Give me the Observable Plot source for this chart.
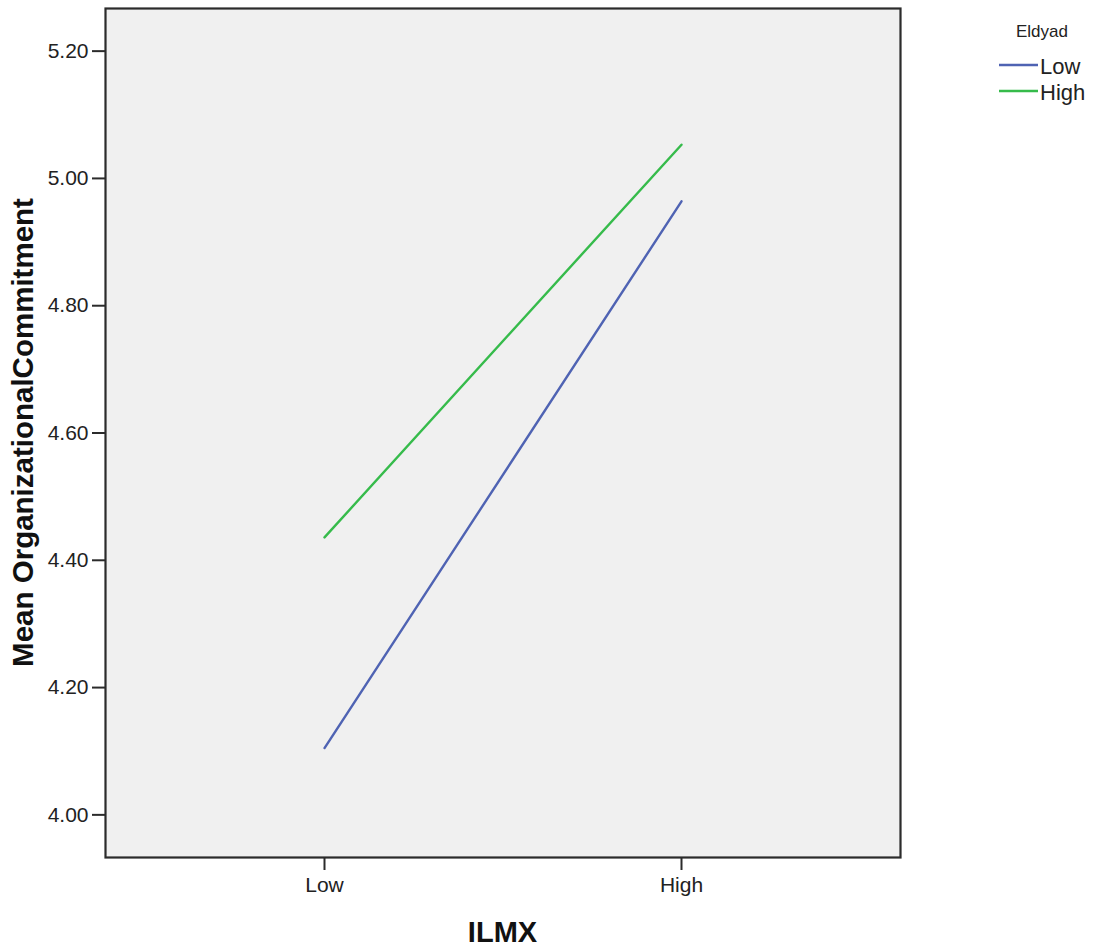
<!DOCTYPE html>
<html><head><meta charset="utf-8">
<script src="https://cdn.jsdelivr.net/npm/d3@7"></script>
<script src="https://cdn.jsdelivr.net/npm/@observablehq/plot@0.6"></script>
<style>body{margin:0;background:#fff;} svg{display:block;}</style>
</head><body><div id="chart"></div>
<script>
const ilmxLevels = ["Low", "High"];
const eldyadLevels = ["Low", "High"];
const meanEldyadLow = [4.105, 4.964];
const meanEldyadHigh = [4.436, 5.053];
const seriesColors = ["#4f63b3", "#36bb4b"];
const yTicks = [4.0, 4.2, 4.4, 4.6, 4.8, 5.0, 5.2];
const xTitle = "ILMX";
const yTitle = "Mean OrganizationalCommitment";
const legendTitle = "Eldyad";

const seriesValues = [meanEldyadLow, meanEldyadHigh];
const rows = eldyadLevels.flatMap((e, si) =>
  ilmxLevels.map((x, i) => ({ilmx: x, eldyad: e, value: seriesValues[si][i]})));

const font = "'Liberation Sans', Arial, sans-serif";
const W = 1095, H = 951, mL = 105, mR = 195, mT = 8, mB = 94;

const plot = Plot.plot({
  width: W, height: H,
  marginLeft: mL, marginRight: mR, marginTop: mT, marginBottom: mB,
  style: {fontFamily: font, fontSize: "21px", color: "#222", background: "#fff"},
  x: {type: "point", domain: ilmxLevels, padding: 0.6134, label: null},
  y: {domain: [3.933, 5.267], label: null},
  color: {domain: eldyadLevels, range: seriesColors},
  marks: [
    Plot.frame({fill: "#f0f0f0", stroke: "none"}),
    Plot.line(rows, {x: "ilmx", y: "value", z: "eldyad", stroke: "eldyad", strokeWidth: 2.4}),
    Plot.frame({stroke: "#2b2b2b", strokeWidth: 2.2}),
    Plot.axisY({ticks: yTicks, tickFormat: d3.format(".2f"), tickSize: 13, tickPadding: 4, stroke: "#2b2b2b", strokeWidth: 2, label: null, fontSize: 21}),
    Plot.axisX({tickSize: 13, tickPadding: 7, stroke: "#2b2b2b", strokeWidth: 2, label: null, fontSize: 21})
  ]
});

const svg = d3.select(plot);
svg.append("text")
  .attr("transform", `translate(33,${(mT + H - mB) / 2}) rotate(-90)`)
  .attr("text-anchor", "middle")
  .attr("font-family", font).attr("font-size", 29.5).attr("font-weight", "bold").attr("fill", "#111")
  .text(yTitle);
svg.append("text")
  .attr("x", (mL + W - mR) / 2).attr("y", 942)
  .attr("text-anchor", "middle")
  .attr("font-family", font).attr("font-size", 29).attr("font-weight", "bold").attr("fill", "#111")
  .text(xTitle);

const lg = svg.append("g").attr("font-family", font);
lg.append("text").attr("x", 1042).attr("y", 37).attr("text-anchor", "middle")
  .attr("font-size", 17).attr("fill", "#222").text(legendTitle);
eldyadLevels.forEach((lev, i) => {
  const y = 65 + i * 26;
  lg.append("line").attr("x1", 999).attr("x2", 1038).attr("y1", y).attr("y2", y)
    .attr("stroke", seriesColors[i]).attr("stroke-width", 2.4);
  lg.append("text").attr("x", 1040).attr("y", y + 9).attr("text-anchor", "start")
    .attr("font-size", 22).attr("fill", "#222").text(lev);
});

document.getElementById("chart").appendChild(plot);
</script>
</body></html>
